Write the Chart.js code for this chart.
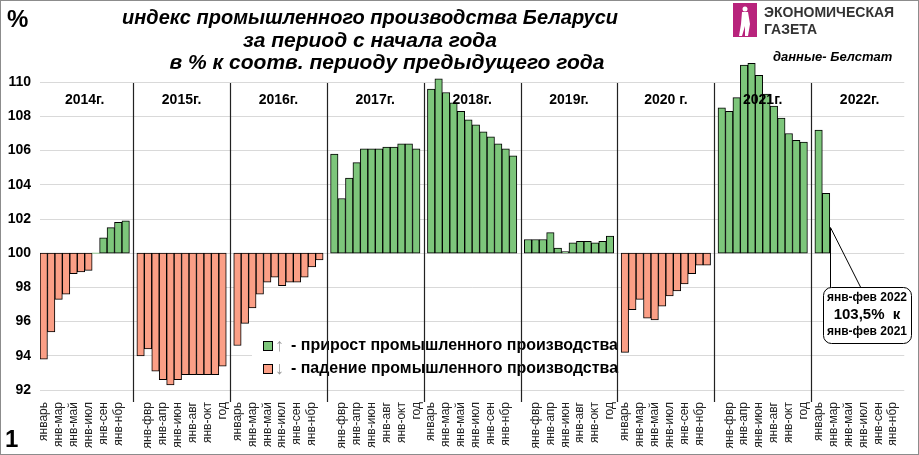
<!DOCTYPE html>
<html>
<head>
<meta charset="utf-8">
<script src="https://cdn.jsdelivr.net/npm/chart.js"></script>
<style>
body { margin: 0; background: #fff; }
canvas { display: block; }
</style>
</head>
<body>
<canvas id="myChart" width="919" height="455"></canvas>
<script>
// year captions and month-period labels
var years = ['2014г.', '2015г.', '2016г.', '2017г.', '2018г.', '2019г.', '2020 г.', '2021г.', '2022г.'];
var months = ['январь', 'янв-фвр', 'янв-мар', 'янв-апр', 'янв-май', 'янв-июн',
              'янв-июл', 'янв-авг', 'янв-сен', 'янв-окт', 'янв-нбр', 'год'];

// index, % to the same period of the previous year
var v2014 = [93.8, 95.4, 97.3, 97.6, 98.8, 98.9, 99.0, 100.0, 100.9, 101.5, 101.8, 101.9];
var v2015 = [94.0, 94.4, 93.1, 92.6, 92.3, 92.6, 92.9, 92.9, 92.9, 92.9, 92.9, 93.4];
var v2016 = [94.6, 95.9, 96.8, 97.6, 98.3, 98.6, 98.1, 98.3, 98.3, 98.6, 99.2, 99.6];
var v2017 = [105.8, 103.2, 104.4, 105.3, 106.1, 106.1, 106.1, 106.2, 106.2, 106.4, 106.4, 106.1];
var v2018 = [109.6, 110.2, 109.4, 108.8, 108.3, 107.8, 107.5, 107.1, 106.8, 106.4, 106.1, 105.7];
var v2019 = [100.8, 100.8, 100.8, 101.2, 100.3, 100.1, 100.6, 100.7, 100.7, 100.6, 100.7, 101.0];
var v2020 = [94.2, 96.7, 97.3, 96.2, 96.1, 96.9, 97.5, 97.8, 98.2, 98.8, 99.3, 99.3];
var v2021 = [108.5, 108.3, 109.1, 111.0, 111.1, 110.4, 109.3, 108.6, 107.9, 107.0, 106.6, 106.5];
var v2022 = [107.2, 103.5];

var yTicks = [92, 94, 96, 98, 100, 102, 104, 106, 108, 110];
var baseLine = 100;

var GREEN = '#7dc67b';
var RED = '#fb9f86';

// one category per month, a blank category between years
var yearData = [v2014, v2015, v2016, v2017, v2018, v2019, v2020, v2021, v2022];
var labels = [], values = [], yearStart = [], gaps = [];
yearData.forEach(function (vals, i) {
    if (i > 0) {
        gaps.push(labels.length);
        labels.push('');
        values.push(null);
    }
    yearStart.push(labels.length);
    for (var m = 0; m < 12; m++) {
        labels.push(months[m]);
        values.push(m < vals.length ? [baseLine, vals[m]] : null);
    }
});

var F = 'Arial, "Liberation Sans", sans-serif';

var extras = {
    id: 'extras',
    afterDatasetsDraw: function (chart) {
        var ctx = chart.ctx;
        var xs = chart.scales.x, ys = chart.scales.y;
        ctx.save();

        // legend inside the plot
        ctx.fillStyle = '#fff';
        ctx.fillRect(252, 335, 368, 46);
        var rows = [
            { c: GREEN, a: '↑', t: '- прирост промышленного производства', y: 346 },
            { c: RED, a: '↓', t: '- падение промышленного производства', y: 369 }
        ];
        rows.forEach(function (r) {
            ctx.fillStyle = r.c;
            ctx.fillRect(263.5, r.y - 4.5, 9, 9);
            ctx.strokeStyle = '#000';
            ctx.lineWidth = 1;
            ctx.strokeRect(263.5, r.y - 4.5, 9, 9);
            ctx.fillStyle = '#999';
            ctx.font = '18px ' + F;
            ctx.textBaseline = 'middle';
            ctx.textAlign = 'left';
            ctx.fillText(r.a, 275, r.y);
            ctx.fillStyle = '#000';
            ctx.font = 'bold 16px ' + F;
            ctx.fillText(r.t, 291, r.y, 327);
        });

        // separators between years
        ctx.strokeStyle = '#222';
        ctx.lineWidth = 1.2;
        gaps.forEach(function (g) {
            var x = Math.round(xs.getPixelForValue(g)) + 0.5;
            ctx.beginPath();
            ctx.moveTo(x, 83);
            ctx.lineTo(x, 402);
            ctx.stroke();
        });

        // year captions
        ctx.fillStyle = '#000';
        ctx.font = 'bold 14px ' + F;
        ctx.textAlign = 'center';
        ctx.textBaseline = 'middle';
        years.forEach(function (y, i) {
            var cx = (xs.getPixelForValue(yearStart[i]) + xs.getPixelForValue(yearStart[i] + 11)) / 2;
            ctx.fillText(y, cx, 100);
        });

        // callout for the last bar
        var last = yearStart[8] + 1;
        var bw = xs.getPixelForValue(1) - xs.getPixelForValue(0);
        var ax = Math.round(xs.getPixelForValue(last) + bw / 2) + 0.5;
        var ay = ys.getPixelForValue(101.5);
        ctx.strokeStyle = '#000';
        ctx.lineWidth = 1;
        ctx.beginPath();
        ctx.moveTo(ax, ay);
        ctx.lineTo(ax, 288);
        ctx.moveTo(ax, ay);
        ctx.lineTo(861, 288);
        ctx.stroke();
        ctx.beginPath();
        ctx.roundRect(823.5, 287.5, 88, 56, 8);
        ctx.fillStyle = '#fff';
        ctx.fill();
        ctx.stroke();
        ctx.fillStyle = '#000';
        ctx.font = 'bold 12px ' + F;
        ctx.fillText('янв-фев 2022', 867, 298);
        ctx.font = 'bold 15px ' + F;
        ctx.fillText('103,5%  к', 867, 315);
        ctx.font = 'bold 12px ' + F;
        ctx.fillText('янв-фев 2021', 867, 332);
        ctx.restore();
    },
    afterDraw: function (chart) {
        var ctx = chart.ctx;
        ctx.save();
        ctx.fillStyle = '#000';
        ctx.textBaseline = 'middle';

        // title
        ctx.textAlign = 'center';
        ctx.font = 'italic bold 21px "Liberation Sans Narrow", ' + F;
        ctx.fillText('индекс промышленного производства Беларуси', 370, 18, 496);
        ctx.fillText('за период с начала года', 370, 41, 300);
        ctx.fillText('в % к соотв. периоду предыдущего года', 387, 63, 446);

        ctx.textAlign = 'left';
        ctx.font = 'bold 24px ' + F;
        ctx.fillText('%', 7, 20);
        ctx.fillText('1', 5, 440);

        // logo
        ctx.fillStyle = '#b8237c';
        ctx.fillRect(733, 3, 24, 34);
        ctx.fillStyle = '#fff';
        ctx.beginPath();
        ctx.arc(745, 9, 2.5, 0, Math.PI * 2);
        ctx.fill();
        ctx.beginPath();
        ctx.moveTo(742, 12);
        ctx.lineTo(748, 12);
        ctx.lineTo(750, 24);
        ctx.lineTo(748, 36);
        ctx.lineTo(745, 36);
        ctx.lineTo(745, 26);
        ctx.lineTo(742, 36);
        ctx.lineTo(739, 36);
        ctx.lineTo(741, 24);
        ctx.closePath();
        ctx.fill();
        ctx.fillStyle = '#333';
        ctx.font = 'bold 14px ' + F;
        ctx.fillText('ЭКОНОМИЧЕСКАЯ', 764, 13, 147);
        ctx.fillText('ГАЗЕТА', 764, 30);
        ctx.fillStyle = '#000';
        ctx.font = 'italic bold 13px ' + F;
        ctx.fillText('данные- Белстат', 773, 57, 138);

        // frame
        ctx.strokeStyle = '#8c8c8c';
        ctx.lineWidth = 1;
        ctx.strokeRect(0.5, 0.5, 918, 454);
        ctx.restore();
    }
};

var ctx = document.getElementById('myChart').getContext('2d');
var myChart = new Chart(ctx, {
    type: 'bar',
    data: {
        labels: labels,
        datasets: [{
            data: values,
            backgroundColor: function (c) {
                return c.raw && c.raw[1] >= baseLine ? GREEN : RED;
            },
            borderColor: '#000',
            borderWidth: function (c) {
                return c.raw && c.raw[1] !== baseLine ? 1 : 0;
            },
            borderSkipped: false,
            barPercentage: 1,
            categoryPercentage: 1
        }]
    },
    options: {
        responsive: false,
        animation: false,
        devicePixelRatio: 1,
        layout: { padding: { top: 48, right: 10, left: 0, bottom: 0 } },
        plugins: {
            legend: { display: false },
            tooltip: { enabled: false }
        },
        scales: {
            x: {
                grid: { display: false },
                border: { display: false },
                ticks: {
                    autoSkip: false,
                    maxRotation: 90,
                    minRotation: 90,
                    padding: 4,
                    color: '#222',
                    font: { family: F, size: 12 },
                    callback: function (v, i) {
                        return i % 2 === 0 ? labels[i] : '';
                    }
                },
                afterFit: function (s) { s.height = 65; }
            },
            y: {
                min: 92,
                max: 112,
                afterBuildTicks: function (s) {
                    s.ticks = yTicks.concat([112]).map(function (v) { return { value: v }; });
                },
                grid: {
                    color: function (c) { return c.tick && c.tick.value === 112 ? 'rgba(0,0,0,0)' : '#d9d9d9'; },
                    drawTicks: false
                },
                border: { display: false },
                ticks: {
                    padding: 9,
                    color: '#000',
                    font: { family: F, size: 14, weight: 'bold' },
                    callback: function (v) { return v === 112 ? '' : v; }
                },
                afterFit: function (s) { s.width = 40; }
            }
        }
    },
    plugins: [extras]
});
</script>
</body>
</html>
